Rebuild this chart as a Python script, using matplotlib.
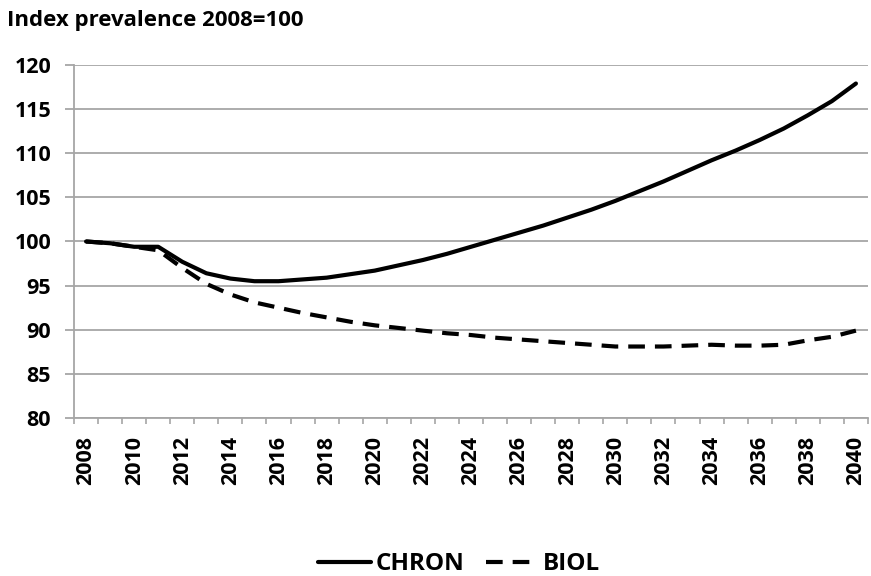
import numpy as np
import matplotlib.pyplot as plt

# Index prevalence, 2008 = 100
years = list(range(2008, 2041))
chron = [100.0, 99.8, 99.4, 99.4, 97.7, 96.4, 95.8, 95.5, 95.5, 95.7,
         95.9, 96.3, 96.7, 97.3, 97.9, 98.6, 99.4, 100.2, 101.0, 101.8,
         102.7, 103.6, 104.6, 105.7, 106.8, 108.0, 109.2, 110.3, 111.5,
         112.8, 114.3, 115.9, 117.9]
biol = [100.0, 99.8, 99.4, 99.0, 97.0, 95.2, 94.0, 93.1, 92.5, 91.9,
        91.4, 90.9, 90.5, 90.2, 89.9, 89.6, 89.4, 89.1, 88.9, 88.7,
        88.5, 88.3, 88.1, 88.1, 88.1, 88.2, 88.3, 88.2, 88.2, 88.3,
        88.8, 89.2, 89.9]
yticks = [80, 85, 90, 95, 100, 105, 110, 115, 120]
xlabels = [str(y) for y in years[::2]]

plt.rcParams['font.family'] = ['Open Sans', 'DejaVu Sans']
plt.rcParams['font.weight'] = 'bold'

fig = plt.figure(figsize=(8.71, 5.76), dpi=100)
ax = fig.add_axes([0.085, 0.2743, 0.9115, 0.6129])

grid_c = '#a6a6a6'
ax.plot(years, chron, color='black', lw=3.0, solid_capstyle='round', label='CHRON')
ax.plot(years, biol, color='black', lw=3.0, dashes=(4.0, 2.4), label='BIOL')

ax.set_xlim(2007.5, 2040.5)
ax.set_ylim(80, 120)
ax.set_yticks(yticks)
ax.grid(axis='y', color=grid_c, lw=1.3, zorder=0)
ax.set_axisbelow(True)

ax.set_xticks(years[::2])
ax.set_xticklabels(xlabels, rotation=90, fontsize=15.5, fontweight='bold')
ax.set_xticks(np.arange(2007.5, 2041, 1.0), minor=True)
ax.tick_params(axis='x', which='major', length=0, pad=13)
ax.tick_params(axis='x', which='minor', length=4.5, color=grid_c, width=1.2)
ax.tick_params(axis='y', length=6.5, color=grid_c, width=1.3, labelsize=15.5, pad=10)
for lab in ax.get_yticklabels():
    lab.set_fontweight('bold')

for s in ['top', 'right']:
    ax.spines[s].set_visible(False)
ax.spines['left'].set_color(grid_c)
ax.spines['bottom'].set_color(grid_c)
ax.spines['left'].set_linewidth(1.3)
ax.spines['bottom'].set_linewidth(1.3)

fig.text(0.008, 0.965, 'Index prevalence 2008=100', fontsize=16,
         fontweight='bold', va='center', ha='left')

fig.legend(loc='center', bbox_to_anchor=(0.527, 0.02), ncol=2, frameon=False,
           handlelength=2.2, handletextpad=0.15, columnspacing=0.9,
           prop={'weight': 'bold', 'size': 17.5})

fig.savefig('out.png', dpi=100)
